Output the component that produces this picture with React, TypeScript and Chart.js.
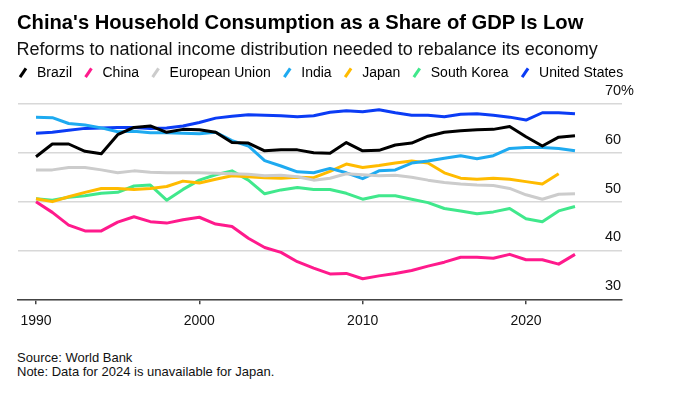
import React, { useEffect, useRef } from 'react';
import { Chart, registerables } from 'chart.js';

Chart.register(...registerables);

const years = [
  1990, 1991, 1992, 1993, 1994, 1995, 1996, 1997, 1998, 1999,
  2000, 2001, 2002, 2003, 2004, 2005, 2006, 2007, 2008, 2009,
  2010, 2011, 2012, 2013, 2014, 2015, 2016, 2017, 2018, 2019,
  2020, 2021, 2022, 2023,
];

const brazil = [
  59.2, 61.8, 61.8, 60.3, 59.8, 63.7, 65.2, 65.5, 64.2, 64.8,
  64.7, 64.2, 62.1, 62.0, 60.4, 60.6, 60.6, 60.0, 59.9, 62.1,
  60.4, 60.5, 61.6, 62.0, 63.4, 64.2, 64.5, 64.7, 64.8, 65.4,
  63.3, 61.4, 63.2, 63.5,
];
const china = [
  50.0, 47.8, 45.2, 44.0, 44.0, 45.8, 46.9, 45.9, 45.6, 46.3,
  46.8, 45.4, 44.9, 42.5, 40.6, 39.6, 37.7, 36.4, 35.2, 35.3,
  34.2, 34.8, 35.3, 35.9, 36.8, 37.6, 38.6, 38.6, 38.4, 39.2,
  38.1, 38.1, 37.2, 39.2,
];
const europeanUnion = [
  56.5, 56.5, 57.0, 57.0, 56.5, 55.9, 56.3, 56.0, 55.9, 55.9,
  55.9, 55.8, 55.7, 55.6, 55.3, 55.4, 55.1, 54.4, 54.8, 55.7,
  55.5, 55.3, 55.4, 55.0, 54.4, 53.9, 53.6, 53.4, 53.3, 52.7,
  51.4, 50.5, 51.5, 51.6,
];
const india = [
  67.3, 67.2, 66.0, 65.7, 65.1, 64.3, 64.4, 64.1, 64.1, 64.0,
  63.9, 64.2, 62.5, 61.4, 58.4, 57.3, 56.1, 55.9, 56.8, 55.9,
  54.7, 56.3, 56.5, 57.9, 58.3, 58.9, 59.4, 58.8, 59.4, 60.9,
  61.1, 61.1, 60.9, 60.4,
];
const japan = [
  50.6, 50.0, 51.0, 51.9, 52.7, 52.7, 52.5, 52.7, 53.1, 54.2,
  53.8, 54.6, 55.3, 55.1, 54.9, 54.8, 55.0, 54.9, 56.2, 57.7,
  57.0, 57.4, 57.9, 58.3, 57.9, 55.9, 54.8, 54.6, 54.8, 54.6,
  54.1, 53.6, 55.7,
];
const southKorea = [
  50.6, 50.3, 50.9, 51.2, 51.7, 51.9, 53.2, 53.4, 50.3, 52.5,
  54.4, 55.5, 56.3, 54.4, 51.6, 52.4, 52.9, 52.5, 52.5, 51.7,
  50.5, 51.2, 51.2, 50.5, 49.8, 48.6, 48.1, 47.5, 47.9, 48.6,
  46.5, 45.9, 48.1, 49.0,
];
const unitedStates = [
  64.0, 64.2, 64.6, 65.0, 65.1, 65.2, 65.2, 65.0, 65.1, 65.5,
  66.2, 67.1, 67.5, 67.8, 67.7, 67.6, 67.4, 67.6, 68.3, 68.6,
  68.4, 68.8, 68.2, 67.7, 67.7, 67.4, 67.9, 68.0, 67.7, 67.3,
  66.7, 68.2, 68.2, 68.0,
];

const seriesNames = ['Brazil', 'China', 'European Union', 'India', 'Japan', 'South Korea', 'United States'];
const seriesValues = [brazil, china, europeanUnion, india, japan, southKorea, unitedStates];
const seriesColors = ['#000000', '#ff1a8c', '#cccccc', '#1eaaf0', '#ffbb00', '#40e88c', '#0b3cf5'];

const xTickValues = [1990, 2000, 2010, 2020];
const yTickValues = [30, 40, 50, 60, 70];

const FONT = '"Liberation Sans", Arial, Helvetica, sans-serif';

export default function App() {
  const canvasRef = useRef<HTMLCanvasElement | null>(null);

  useEffect(() => {
    if (!canvasRef.current) return;
    const datasets = seriesNames.map((name, i) => ({
      label: name,
      data: seriesValues[i].map((v, j) => ({ x: years[j], y: v })),
      borderColor: seriesColors[i],
      backgroundColor: seriesColors[i],
      borderWidth: 3,
      pointRadius: 0,
      pointHoverRadius: 0,
      pointStyle: 'line' as const,
      pointRotation: -56,
      pointBorderWidth: 3,
      pointBorderColor: seriesColors[i],
      pointBackgroundColor: seriesColors[i],
      tension: 0,
      borderJoinStyle: 'round' as const,
      yAxisID: 'y',
      xAxisID: 'x',
    }));

    const chart = new Chart(canvasRef.current, {
      type: 'line',
      data: { datasets },
      options: {
        animation: false,
        responsive: false,
        events: [],
        layout: { padding: { top: 56.3, left: 6.5, right: 0, bottom: 2.9 } },
        plugins: {
          title: { display: false },
          tooltip: { enabled: false },
          legend: {
            display: true,
            position: 'top',
            align: 'start',
            labels: {
              usePointStyle: true,
              boxWidth: 14,
              boxHeight: 7.5,
              padding: 9.5,
              color: '#000',
              font: { family: FONT, size: 14 },
            },
          },
        },
        scales: {
          x: {
            type: 'linear',
            position: 'bottom',
            min: 1988.898,
            max: 2025.878,
            afterBuildTicks: (scale: any) => {
              scale.ticks = xTickValues.map((v) => ({ value: v }));
            },
            grid: {
              display: true,
              drawOnChartArea: false,
              drawTicks: true,
              tickLength: 5,
              color: '#444',
              lineWidth: 1.5,
            },
            border: { display: true, color: '#444', width: 1.5 },
            ticks: {
              autoSkip: false,
              maxRotation: 0,
              padding: 8,
              color: '#111',
              font: { family: FONT, size: 14 },
              callback: (v: any) => String(v),
            },
          },
          y: {
            type: 'linear',
            position: 'right',
            min: 30,
            max: 72.9,
            afterBuildTicks: (scale: any) => {
              scale.ticks = yTickValues.map((v) => ({ value: v }));
            },
            afterFit: (scale: any) => {
              scale.width = 70;
            },
            grid: {
              display: true,
              drawTicks: false,
              color: '#d8d8d8',
              lineWidth: 1.5,
            },
            border: { display: false },
            ticks: {
              mirror: true,
              crossAlign: 'far',
              padding: 12,
              labelOffset: -13,
              color: '#111',
              font: { family: FONT, size: 14.5 },
              callback: (v: any) => (v === 70 ? '70%' : String(v)),
            },
          },
          yL: {
            type: 'linear',
            position: 'left',
            display: true,
            afterFit: (scale: any) => {
              scale.width = 11.5;
            },
            grid: { display: false },
            border: { display: false },
            ticks: { display: false },
          },
        },
      },
    });
    return () => chart.destroy();
  }, []);

  return (
    <div style={{ position: 'absolute', left: 0, top: 0, width: 692, height: 394, background: '#fff', overflow: 'hidden' }}>
      <canvas ref={canvasRef} width={692} height={340} style={{ position: 'absolute', left: 0, top: 0, width: 692, height: 340 }} />
      <div style={{ position: 'absolute', left: 17, top: 9.5, font: `bold 20.2px ${FONT}`, lineHeight: '24px', color: '#000', whiteSpace: 'nowrap' }}>
        China's Household Consumption as a Share of GDP Is Low
      </div>
      <div style={{ position: 'absolute', left: 16.5, top: 37.8, font: `18px ${FONT}`, lineHeight: '22px', color: '#111', whiteSpace: 'nowrap' }}>
        Reforms to national income distribution needed to rebalance its economy
      </div>
      <div style={{ position: 'absolute', left: 17, top: 350.5, font: `13px ${FONT}`, lineHeight: '14.5px', color: '#111', whiteSpace: 'nowrap' }}>
        Source: World Bank
      </div>
      <div style={{ position: 'absolute', left: 17, top: 365.3, font: `13px ${FONT}`, lineHeight: '14.5px', color: '#111', whiteSpace: 'nowrap' }}>
        Note: Data for 2024 is unavailable for Japan.
      </div>
    </div>
  );
}
